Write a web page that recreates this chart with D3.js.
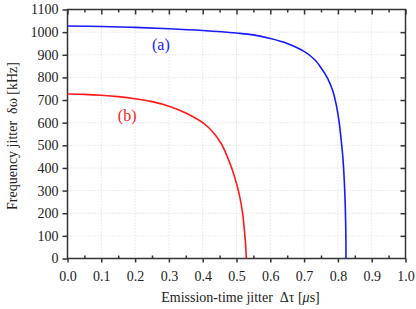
<!DOCTYPE html>
<html>
<head>
<meta charset="utf-8">
<script src="https://cdn.jsdelivr.net/npm/d3@7"></script>
<style>
  body { margin: 0; background: #fff; }
  svg { display: block; }
  text { font-family: "Liberation Serif", "DejaVu Serif", serif; }
</style>
</head>
<body>
<div id="chart"></div>
<script>
'use strict';

// values
var xTicks = [0, 0.1, 0.2, 0.3, 0.4, 0.5, 0.6, 0.7, 0.8, 0.9, 1.0];
var yTicks = [0, 100, 200, 300, 400, 500, 600, 700, 800, 900, 1000, 1100];

var curveA_tau = [0, 0.1, 0.2, 0.3, 0.4, 0.5, 0.55, 0.6, 0.65, 0.7, 0.73, 0.75, 0.77, 0.785, 0.795, 0.803, 0.81, 0.815, 0.819, 0.822, 0.8235, 0.824];
var curveA_omega = [1027, 1025, 1021, 1015, 1007, 996, 988, 972, 950, 915, 880, 843, 795, 740, 680, 610, 520, 440, 340, 220, 110, 0];

var curveB_tau = [0, 0.05, 0.1, 0.15, 0.2, 0.25, 0.3, 0.35, 0.4, 0.43, 0.455, 0.473, 0.488, 0.5, 0.51, 0.518, 0.523, 0.527, 0.529];
var curveB_omega = [727, 725, 721, 715, 706, 693, 673, 643, 600, 559, 507, 449, 390, 331, 270, 200, 130, 60, 0];

var chart = {};

chart.w = 416;
chart.h = 309;
chart.m = { left: 67.5, top: 9.5, right: 10.5, bottom: 50.5 };

chart.run = function ()
{
    var svg = d3.select("#chart").append("svg")
        .attr("width", chart.w)
        .attr("height", chart.h);

    var iw = chart.w - chart.m.left - chart.m.right;
    var ih = chart.h - chart.m.top - chart.m.bottom;

    var x = d3.scaleLinear().domain([0, 1]).range([0, iw]);
    var y = d3.scaleLinear().domain([0, 1100]).range([ih, 0]);

    var g = svg.append("g")
        .attr("transform", "translate(" + chart.m.left + "," + chart.m.top + ")");

    // dotted grid
    var grid = g.append("g").attr("stroke", "#d8d8d8").attr("stroke-width", 1).attr("stroke-dasharray", "1,2");
    grid.selectAll(".gx").data(xTicks.slice(1, -1)).enter().append("line")
        .attr("x1", function (d) { return x(d); }).attr("x2", function (d) { return x(d); })
        .attr("y1", 0).attr("y2", ih);
    grid.selectAll(".gy").data(yTicks.slice(1, -1)).enter().append("line")
        .attr("x1", 0).attr("x2", iw)
        .attr("y1", function (d) { return y(d); }).attr("y2", function (d) { return y(d); });

    var minorX = d3.range(0.05, 1, 0.1);

    // bottom: major ticks outward, minor ticks inward
    g.append("g").attr("transform", "translate(0," + ih + ")")
        .call(d3.axisBottom(x).tickValues(xTicks).tickFormat(d3.format(".1f")).tickSize(4).tickPadding(9));
    g.append("g").attr("transform", "translate(0," + ih + ")")
        .call(d3.axisBottom(x).tickValues(minorX).tickFormat("").tickSize(-3));

    // top: ticks pointing in
    g.append("g")
        .call(d3.axisTop(x).tickValues(xTicks).tickFormat("").tickSize(-5));
    g.append("g")
        .call(d3.axisTop(x).tickValues(minorX).tickFormat("").tickSize(-3));

    // left: ticks outward
    g.append("g")
        .call(d3.axisLeft(y).tickValues(yTicks).tickFormat(d3.format("d")).tickSize(5).tickPadding(4));

    // right: ticks inward
    g.append("g").attr("transform", "translate(" + iw + ",0)")
        .call(d3.axisRight(y).tickValues(yTicks.slice(1, -1)).tickFormat("").tickSize(-5));

    g.selectAll(".domain").remove();
    g.selectAll(".tick line").attr("stroke", "#333").attr("stroke-width", 1.5);
    g.selectAll(".tick text")
        .attr("font-family", "Liberation Serif, serif")
        .attr("font-size", "14px")
        .attr("fill", "#222");

    // frame
    g.append("rect")
        .attr("x", 0).attr("y", 0).attr("width", iw).attr("height", ih)
        .attr("fill", "none").attr("stroke", "#333").attr("stroke-width", 1.5);

    var line = d3.line()
        .x(function (d) { return x(d[0]); })
        .y(function (d) { return y(d[1]); })
        .curve(d3.curveCatmullRom.alpha(0.5));

    var ptsA = d3.zip(curveA_tau, curveA_omega);
    var ptsB = d3.zip(curveB_tau, curveB_omega);

    g.append("path").datum(ptsA)
        .attr("d", line).attr("fill", "none")
        .attr("stroke", "#1a1aff").attr("stroke-width", 1.6);
    g.append("path").datum(ptsB)
        .attr("d", line).attr("fill", "none")
        .attr("stroke", "#ff1a1a").attr("stroke-width", 1.6);

    g.append("text").text("(a)")
        .attr("x", x(0.25)).attr("y", y(922))
        .attr("font-size", "16px").attr("fill", "#1a1aff");
    g.append("text").text("(b)")
        .attr("x", x(0.149)).attr("y", y(607))
        .attr("font-size", "16px").attr("fill", "#ff1a1a");

    // axis titles
    var xt = svg.append("text")
        .attr("x", chart.m.left + iw / 2 + 4).attr("y", 302)
        .attr("text-anchor", "middle")
        .attr("font-size", "14px").attr("fill", "#222");
    xt.append("tspan").text("Emission-time jitter \u00a0\u0394\u03c4 [");
    xt.append("tspan").attr("font-style", "italic").text("\u03bc");
    xt.append("tspan").text("s]");

    svg.append("text")
        .attr("transform", "translate(17," + (chart.m.top + ih / 2 + 2) + ") rotate(-90)")
        .attr("text-anchor", "middle")
        .attr("font-size", "14px").attr("fill", "#222")
        .text("Frequency jitter \u00a0\u03b4\u03c9 [kHz]");
};

window.onload = chart.run;
</script>
</body>
</html>
